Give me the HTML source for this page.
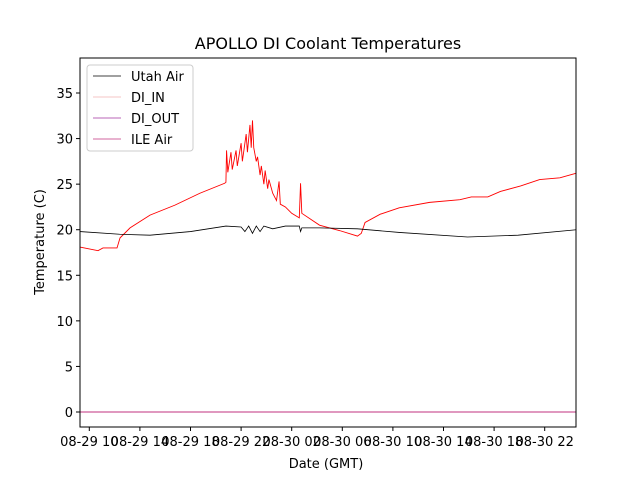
<!DOCTYPE html>
<html><head><meta charset="utf-8"><style>
body{margin:0;background:#fff}
svg text{font-family:"DejaVu Sans","Liberation Sans",sans-serif;fill:#000}
</style></head><body>
<svg id="c" width="640" height="480"></svg>
<script>
const redHours=[9.26,10.69,11.08,12.19,12.43,13.22,14.8,16.77,18.74,20.7,20.8,20.85,20.95,21.2,21.3,21.6,21.7,22,22.1,22.4,22.5,22.7,22.8,22.9,23.0,23.2,23.3,23.5,23.6,23.8,23.9,24.1,24.2,24.5,24.8,25.0,25.1,25.5,26,26.6,26.7,26.8,28.2,29.8,31.2,31.5,31.8,33,34.5,36.9,39.3,40.2,41.5,42.5,44.1,45.6,47.2,48.5];
const redValues=[18.1,17.7,18.0,18.0,19.1,20.2,21.6,22.7,24.0,25.1,25.2,28.7,26.3,28.5,26.6,28.7,27,29.5,27.5,30.5,28.5,31.5,29,32,29,27.5,28,26,27,25,26.5,24.5,25.5,24,23.2,25.3,22.8,22.5,21.8,21.3,25.1,21.8,20.5,19.9,19.3,19.6,20.8,21.7,22.4,23.0,23.3,23.6,23.6,24.2,24.8,25.5,25.7,26.2];
const utahHours=[9.26,12.4,14.8,18.0,20.8,22.0,22.3,22.6,22.9,23.2,23.5,23.8,24.5,25.5,26.6,26.7,26.8,28.2,31.2,34.5,39.9,43.9,48.5];
const utahValues=[19.8,19.5,19.4,19.8,20.4,20.3,19.8,20.4,19.6,20.4,19.8,20.4,20.1,20.4,20.4,19.8,20.2,20.2,20.1,19.7,19.2,19.4,20.0];
const zeroHours=[9.26,48.5];
const zeroValues=[0,0];
const yTicks=[0,5,10,15,20,25,30,35];
const xTickHours=[10,14,18,22,26,30,34,38,42,46];
const xTickLabels=["08-29 10","08-29 14","08-29 18","08-29 22","08-30 02","08-30 06","08-30 10","08-30 14","08-30 18","08-30 22"];
const L=80,R=576,T=58,B=427;
const x=h=>89.3+(h-10)*12.65;
const y=v=>412-v*9.114;
const svg=document.getElementById('c');
const NS='http://www.w3.org/2000/svg';
function mk(t,a){const e=document.createElementNS(NS,t);for(const k in a)e.setAttribute(k,a[k]);svg.appendChild(e);return e;}
function txt(s,a){const e=mk('text',a);e.textContent=s;return e;}
function line(hs,vs,col,w,name){const p=mk('polyline',{points:hs.map((h,i)=>x(h)+','+y(vs[i])).join(' '),fill:'none',stroke:col,'stroke-width':w});}
line(zeroHours,zeroValues,'#c0307f',1,'ile-air-line');
line(redHours,redValues,'#ff0000',0.9,'di-in-line');
line(utahHours,utahValues,'#000',0.8,'utah-air-line');
const fr=mk('rect',{x:L,y:T,width:R-L,height:B-T,fill:'none',stroke:'#000','stroke-width':1});


yTicks.forEach(v=>{mk('line',{x1:L-4,x2:L,y1:y(v),y2:y(v),stroke:'#000'});const t=txt(String(v),{x:L-7,y:y(v)+5,'text-anchor':'end','font-size':13});});
xTickHours.forEach((h,i)=>{mk('line',{x1:x(h),x2:x(h),y1:B,y2:B+4,stroke:'#000'});const t=txt(xTickLabels[i],{x:x(h),y:B+19,'text-anchor':'middle','font-size':13});});
let t1=txt('APOLLO DI Coolant Temperatures',{x:328,y:49,'text-anchor':'middle','font-size':16});


let t2=txt('Date (GMT)',{x:326,y:468,'text-anchor':'middle','font-size':13});


let t3=txt('Temperature (C)',{x:44,y:242,'text-anchor':'middle','font-size':13,transform:'rotate(-90 44 242)'});


const lg=mk('rect',{x:87,y:65,width:106,height:86,rx:3,fill:'#fff',stroke:'#ccc'});


[['Utah Air','#000'],['DI_IN','#f0b0b0'],['DI_OUT','#a0309f'],['ILE Air','#c0307f']].forEach((e,i)=>{const yy=76+i*21;mk('line',{x1:93,x2:121,y1:yy,y2:yy,stroke:e[1],'stroke-width':0.8});const t=txt(e[0],{x:131,y:yy+5,'font-size':13});});
</script>
</body></html>
